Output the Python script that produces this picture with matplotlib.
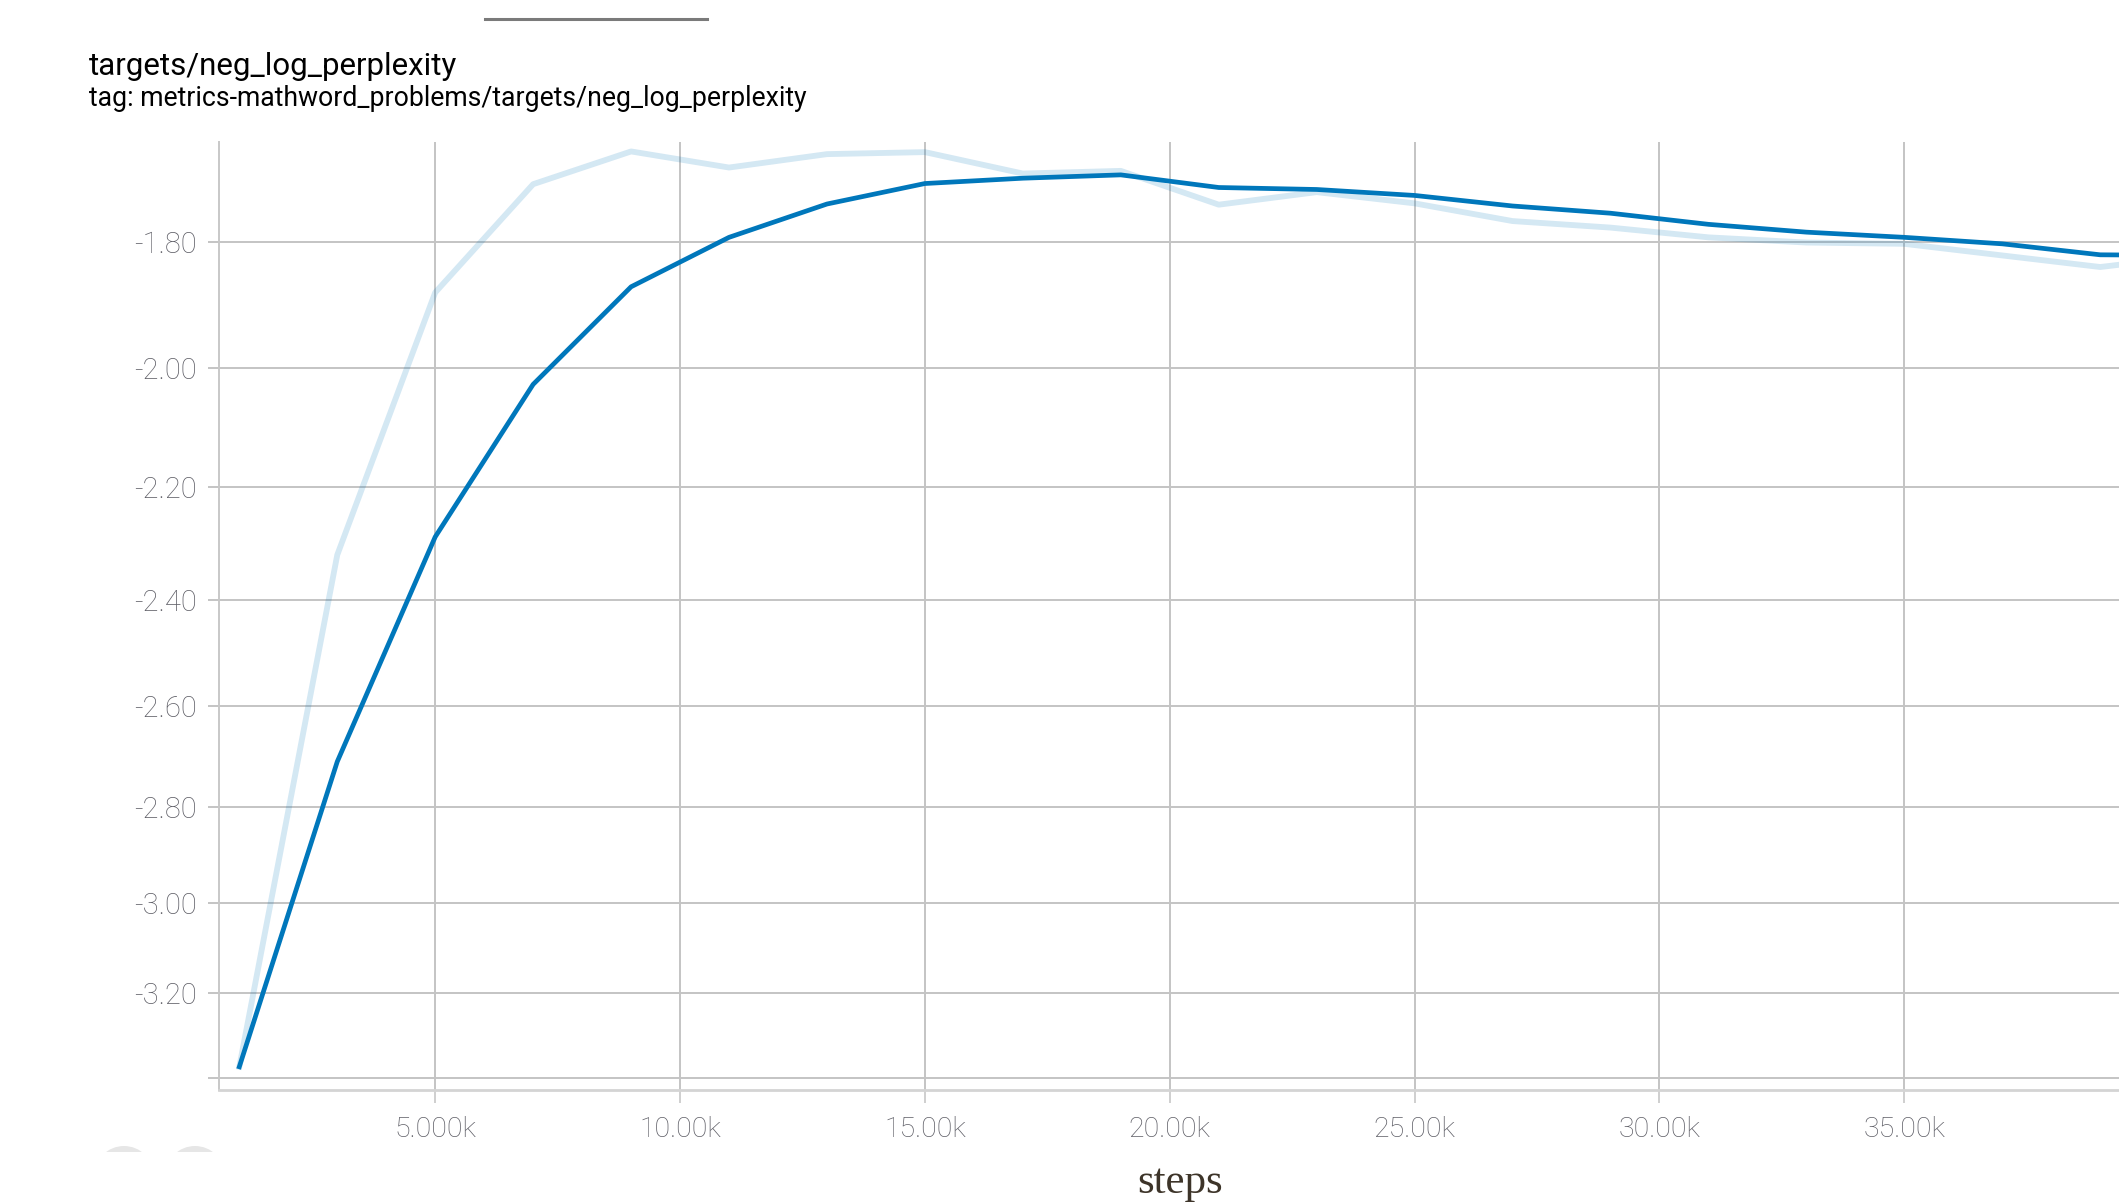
import numpy as np
import matplotlib
matplotlib.use("Agg")
import matplotlib.pyplot as plt
from matplotlib.lines import Line2D
from matplotlib.patches import Circle, Rectangle
from matplotlib.transforms import IdentityTransform

# values
steps = [1000, 3000, 5000, 7000, 9000, 11000, 13000, 15000, 17000, 19000, 21000,
         23000, 25000, 27000, 29000, 31000, 33000, 35000, 37000, 39000, 41000]
raw = [-3.372, -2.319, -1.879, -1.712, -1.663, -1.687, -1.667, -1.664, -1.696, -1.692, -1.743,
       -1.724, -1.741, -1.768, -1.778, -1.793, -1.801, -1.803, -1.821, -1.839, -1.821]
smoothed = [-3.372, -2.708, -2.287, -2.027, -1.870, -1.793, -1.742, -1.711, -1.703, -1.698, -1.717,
            -1.720, -1.729, -1.745, -1.756, -1.773, -1.785, -1.793, -1.803, -1.820, -1.821]
yticks = [-1.8, -2.0, -2.2, -2.4, -2.6, -2.8, -3.0, -3.2, -3.4]
ytick_labels = ["-1.80", "-2.00", "-2.20", "-2.40", "-2.60", "-2.80", "-3.00", "-3.20", ""]
xticks = [5000, 10000, 15000, 20000, 25000, 30000, 35000]
xtick_labels = ["5.000k", "10.00k", "15.00k", "20.00k", "25.00k", "30.00k", "35.00k"]

W, H = 2119, 1203
K = 0.278  # the y axis in the screenshot is squeezed toward the bottom

def fx(x):
	return x / W

def fy(y):
	return 1 - y / H

fig = plt.figure(figsize=(W / 100, H / 100), dpi=100)
ax = fig.add_axes([fx(219), fy(1090), fx(W - 219), (1090 - 142) / H])

ax.set_yscale("function", functions=(lambda v: np.exp(K * np.asarray(v)),
                                     lambda v: np.log(np.clip(v, 1e-9, None)) / K))

blue = "#0077bb"
ax.plot(steps, raw, color=blue, alpha=0.17, lw=4.2, solid_joinstyle="round", zorder=3)
ax.plot(steps, smoothed, color=blue, lw=3.4, solid_joinstyle="round", zorder=4)

ax.set_xlim(585, 39384)
ax.set_ylim(-3.428, -1.649)

ax.set_yticks(yticks)
ax.set_yticklabels(ytick_labels)
ax.set_xticks(xticks)
ax.set_xticklabels(xtick_labels)
ax.minorticks_off()

ax.grid(True, color="#c4c4c4", lw=1.4, zorder=0)
ax.tick_params(axis="y", length=8, width=1.4, color="#c4c4c4", pad=8,
               labelsize=21, labelcolor="#5e5e66")
ax.tick_params(axis="x", length=9, width=1.4, color="#cfcfcf", pad=10,
               labelsize=20.5, labelcolor="#5e5e66")
for lab in ax.get_xticklabels() + ax.get_yticklabels():
	lab.set_fontfamily("Roboto")
	lab.set_fontweight("light")

for s in ["top", "right"]:
	ax.spines[s].set_visible(False)
ax.spines["left"].set_color("#c8c8c8")
ax.spines["left"].set_linewidth(1.4)
ax.spines["bottom"].set_color("#d4d4d4")
ax.spines["bottom"].set_linewidth(2)

fig.text(fx(89), fy(75), "targets/neg_log_perplexity", fontsize=22.5,
         family="Roboto", color="black", va="baseline", ha="left")
fig.text(fx(89), fy(106), "tag: metrics-mathword_problems/targets/neg_log_perplexity",
         fontsize=19.2, family="Roboto", color="black", va="baseline", ha="left")
fig.text(fx(1180), fy(1193), "steps", fontsize=31, family="Liberation Serif",
         color="#3d3429", va="baseline", ha="center")

# grey bar at the top and the clipped round buttons at bottom left
fig.add_artist(Line2D([fx(485), fx(707)], [fy(19), fy(19)], color="#7a7a7a", lw=2.2))
clip = Rectangle((0, H - 1152), 400, 8, transform=IdentityTransform())
for cx in [124, 195]:
	c = Circle((cx, H - 1146 - 30), 30, transform=IdentityTransform(),
	           color="#e6e6e6", lw=0)
	fig.add_artist(c)
	c.set_clip_path(clip)

fig.savefig("out.png", dpi=100)
